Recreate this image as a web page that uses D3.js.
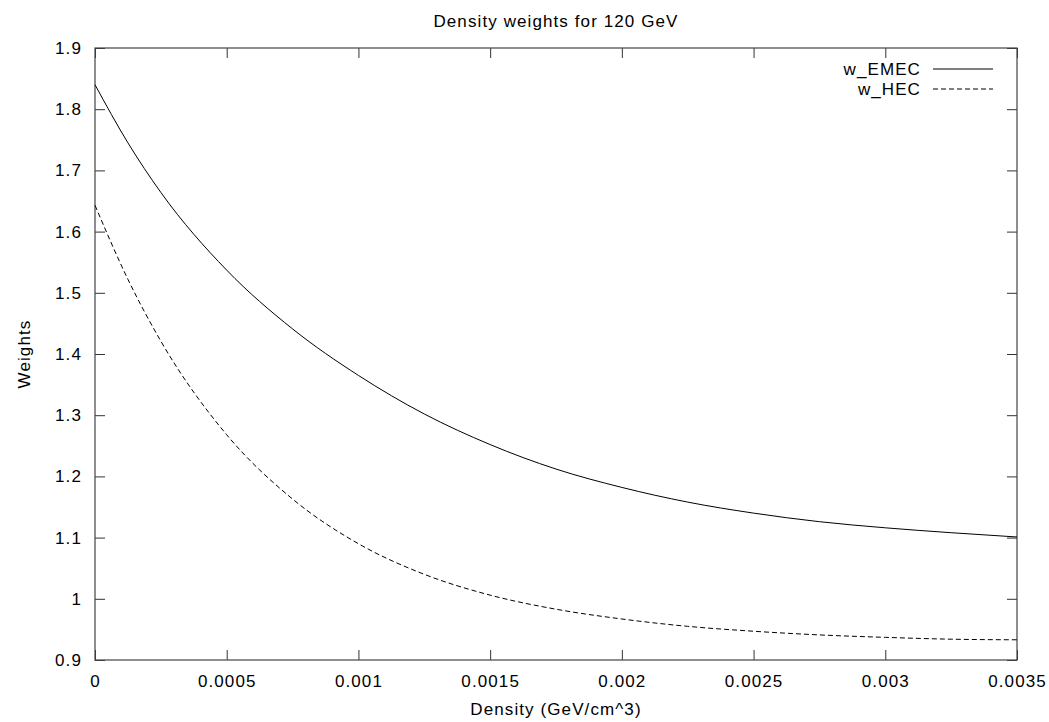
<!DOCTYPE html>
<html>
<head>
<meta charset="utf-8">
<script src="https://cdn.jsdelivr.net/npm/d3@7"></script>
<style>
  body { margin: 0; background: #fff; }
  text { font-family: "Liberation Sans", Arial, sans-serif; fill: #000; }
</style>
</head>
<body>
<div id="chart"></div>
<script>
// data
var density = [0, 0.000125, 0.00025, 0.0005, 0.00075, 0.001, 0.00125, 0.0015, 0.00175, 0.002, 0.00225, 0.0025, 0.00275, 0.003, 0.00325, 0.0035];
var wEMEC = [1.840, 1.745, 1.664, 1.537, 1.441, 1.365, 1.302, 1.252, 1.212, 1.182, 1.158, 1.140, 1.126, 1.116, 1.108, 1.101];
var wHEC = [1.643, 1.522, 1.421, 1.268, 1.163, 1.090, 1.040, 1.006, 0.983, 0.967, 0.955, 0.947, 0.941, 0.937, 0.934, 0.933];
var seriesNames = ["w_EMEC", "w_HEC"];
var xTicks = [0, 0.0005, 0.001, 0.0015, 0.002, 0.0025, 0.003, 0.0035];
var yTicks = [0.9, 1, 1.1, 1.2, 1.3, 1.4, 1.5, 1.6, 1.7, 1.8, 1.9];

var W = 1049, H = 722;
var margin = {top: 48, right: 32, bottom: 62, left: 95},
    w = W - margin.left - margin.right,
    h = H - margin.top - margin.bottom;

var svg = d3.select("#chart")
  .append("svg")
  .attr("width", W)
  .attr("height", H);

var g = svg.append("g")
  .attr("transform", `translate(${margin.left},${margin.top})`);

var x = d3.scaleLinear().domain([0, 0.0035]).range([0, w]);
var y = d3.scaleLinear().domain([0.9, 1.9]).range([h, 0]);

var fmtX = d => String(+d.toFixed(4));
var fmtY = d => String(+d.toFixed(1));

function styleAxis(sel) {
  sel.select(".domain").remove();
  sel.selectAll("line").attr("stroke", "#333");
  sel.selectAll("text")
    .style("font-size", "17px")
    .style("letter-spacing", "1.1px")
    .attr("fill", "#000");
  sel.attr("font-family", null).attr("font-size", null);
}

// bottom + left axes with inward ticks
g.append("g")
  .attr("transform", `translate(0,${h})`)
  .call(d3.axisBottom(x).tickValues(xTicks).tickFormat(fmtX).tickSize(-10).tickPadding(15))
  .call(styleAxis);

g.append("g")
  .call(d3.axisLeft(y).tickValues(yTicks).tickFormat(fmtY).tickSize(-10).tickPadding(13))
  .call(styleAxis);

// mirrored ticks, no labels
g.append("g")
  .call(d3.axisTop(x).tickValues(xTicks).tickFormat("").tickSize(-10))
  .call(styleAxis);

g.append("g")
  .attr("transform", `translate(${w},0)`)
  .call(d3.axisRight(y).tickValues(yTicks).tickFormat("").tickSize(-10))
  .call(styleAxis);

// frame
g.append("rect")
  .attr("width", w)
  .attr("height", h)
  .attr("fill", "none")
  .attr("stroke", "#444")
  .attr("stroke-width", 1.2);

var line = d3.line()
  .x((d, i) => x(density[i]))
  .y(d => y(d))
  .curve(d3.curveMonotoneX);

var dashes = [null, "5,3"];
[wEMEC, wHEC].forEach(function(vals, k) {
  g.append("path")
    .datum(vals)
    .attr("fill", "none")
    .attr("stroke", "#000")
    .attr("stroke-width", 1)
    .attr("stroke-dasharray", dashes[k])
    .attr("d", line);
});

// legend
seriesNames.forEach(function(name, k) {
  var ly = 69 + k * 20 - margin.top;
  g.append("text")
    .attr("x", 921 - margin.left)
    .attr("y", ly)
    .attr("dy", "0.35em")
    .attr("text-anchor", "end")
    .style("font-size", "17px")
    .style("letter-spacing", "1.1px")
    .text(name);
  g.append("line")
    .attr("x1", 933 - margin.left)
    .attr("x2", 993 - margin.left)
    .attr("y1", ly)
    .attr("y2", ly)
    .attr("stroke", "#000")
    .attr("stroke-width", 1)
    .attr("stroke-dasharray", dashes[k]);
});

// title and axis labels
svg.append("text")
  .attr("x", margin.left + w / 2)
  .attr("y", 27)
  .attr("text-anchor", "middle")
  .style("font-size", "17px")
  .style("letter-spacing", "1.1px")
  .text("Density weights for 120 GeV");

svg.append("text")
  .attr("x", margin.left + w / 2)
  .attr("y", 715)
  .attr("text-anchor", "middle")
  .style("font-size", "17px")
  .style("letter-spacing", "1.1px")
  .text("Density (GeV/cm^3)");

svg.append("text")
  .attr("transform", `translate(30,${margin.top + h / 2}) rotate(-90)`)
  .attr("text-anchor", "middle")
  .style("font-size", "17px")
  .style("letter-spacing", "1.1px")
  .text("Weights");
</script>
</body>
</html>
